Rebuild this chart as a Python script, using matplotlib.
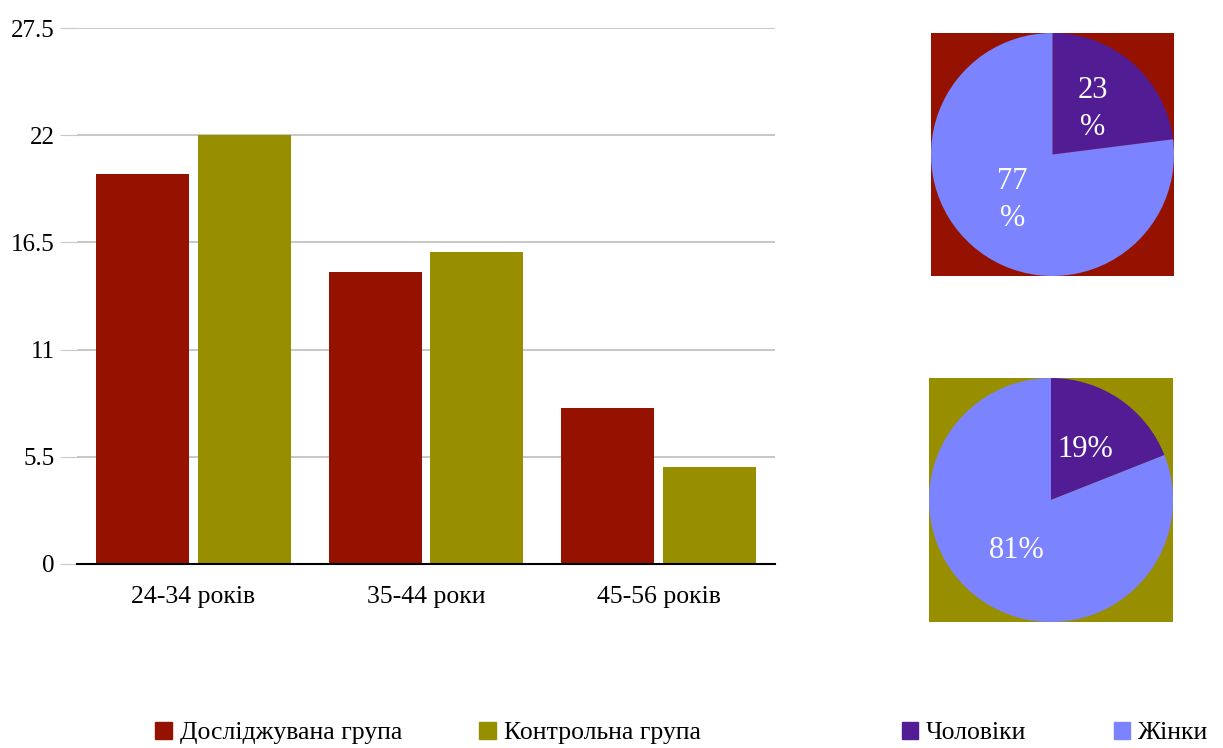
import math
import matplotlib.pyplot as plt
from matplotlib.patches import Patch

# Дані
groups = ['24-34 років', '35-44 роки', '45-56 років']
study_group = [20, 15, 8]
control_group = [22, 16, 5]
y_ticks = [0, 5.5, 11, 16.5, 22, 27.5]
y_tick_labels = ['0', '5.5', '11', '16.5', '22', '27.5']

sex_labels = ['Чоловіки', 'Жінки']
pie_study = [23, 77]
pie_control = [19, 81]
pie_study_text = ['23\n%', '77\n%']
pie_control_text = ['19%', '81%']

red = '#951200'
olive = '#978f00'
purple = '#521c94'
lightblue = '#7b83ff'

plt.rcParams['font.family'] = ['Liberation Serif', 'DejaVu Serif']

fig = plt.figure(figsize=(12.23, 7.48), dpi=100)

# Стовпчикова діаграма
ax = fig.add_axes([77 / 1223, 1 - 564 / 748, (775 - 77) / 1223, (564 - 28) / 748])
x = list(range(len(groups)))
w = 0.40
ax.bar([i - 0.218 for i in x], study_group, width=w, color=red, zorder=3)
ax.bar([i + 0.218 for i in x], control_group, width=w, color=olive, zorder=3)
ax.set_xlim(-0.5, 2.5)
ax.set_ylim(0, 27.5)
ax.set_yticks(y_ticks)
ax.set_yticklabels(y_tick_labels, fontsize=18)
ax.set_xticks(x)
ax.set_xticklabels(groups, fontsize=18.5)
ax.tick_params(axis='x', length=0, pad=16)
ax.tick_params(axis='y', length=12, color='#c8c8c8', pad=4)
ax.grid(axis='y', color='#bdbdbd', linewidth=1.2, zorder=0)
for s in ['top', 'right', 'left']:
    ax.spines[s].set_visible(False)
ax.spines['bottom'].set_color('black')
ax.spines['bottom'].set_linewidth(1.5)
ax.spines['bottom'].set_zorder(4)

# Кругові діаграми
def draw_pie(box, values, texts, bg):
    pax = fig.add_axes(box)
    pax.pie(values, colors=[purple, lightblue], startangle=90,
            counterclock=False, radius=1.0)
    pax.set_frame_on(True)
    pax.set_facecolor(bg)
    pax.set_xlim(-1, 1)
    pax.set_ylim(-1, 1)
    pax.set_aspect('auto')
    pax.set_xticks([])
    pax.set_yticks([])
    for s in pax.spines.values():
        s.set_visible(False)
    ang = 90.0
    for v, t in zip(values, texts):
        span = v / sum(values) * 360
        mid = math.radians(ang - span / 2)
        pax.text(0.5 * math.cos(mid), 0.5 * math.sin(mid), t, color='white',
                 fontsize=22, ha='center', va='center', linespacing=1.4)
        ang -= span
    return pax

draw_pie([931 / 1223, 1 - 276 / 748, 243 / 1223, 243 / 748], pie_study, pie_study_text, red)
draw_pie([929 / 1223, 1 - 622 / 748, 244 / 1223, 244 / 748], pie_control, pie_control_text, olive)

# Легенди
h1 = [Patch(color=red, label='Досліджувана група'), Patch(color=olive, label='Контрольна група')]
fig.legend(handles=h1, loc='center', bbox_to_anchor=(428 / 1223, 1 - 733 / 748), ncol=2,
           frameon=False, fontsize=18.5, handlelength=0.65, handleheight=0.65,
           handletextpad=0.3, columnspacing=3.0)
h2 = [Patch(color=purple, label=sex_labels[0]), Patch(color=lightblue, label=sex_labels[1])]
fig.legend(handles=h2, loc='center', bbox_to_anchor=(1055 / 1223, 1 - 733 / 748), ncol=2,
           frameon=False, fontsize=18.5, handlelength=0.65, handleheight=0.65,
           handletextpad=0.3, columnspacing=3.4)

fig.savefig('out.png', dpi=100)
